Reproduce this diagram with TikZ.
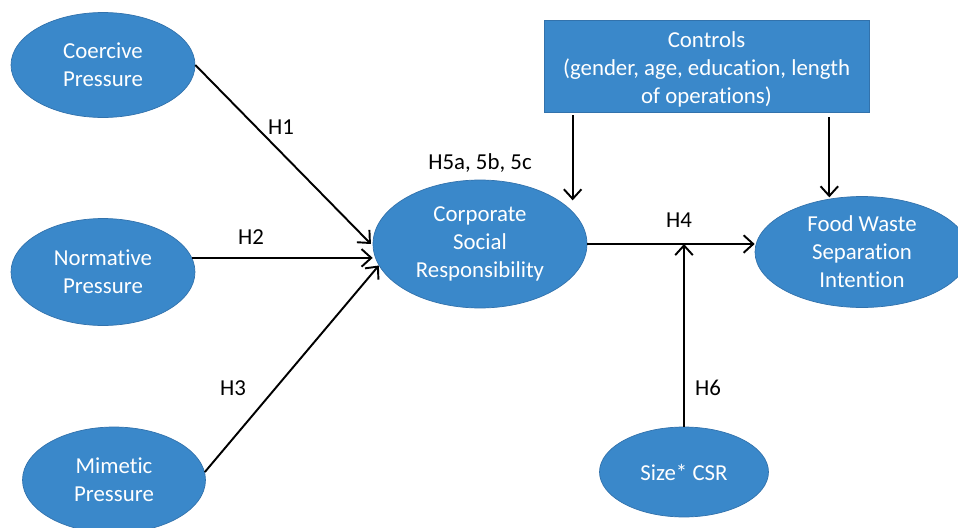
\documentclass[tikz,border=0pt]{standalone}
\usepackage{fontspec}
\setmainfont{Carlito}[Ligatures={NoCommon,NoDiscretionary,NoRare}]
\usetikzlibrary{shapes.geometric,arrows.meta}
\definecolor{nodeblue}{HTML}{3A88CA}
\definecolor{nodeedge}{HTML}{3272AC}
\begin{document}
\begin{tikzpicture}[x=0.02cm,y=-0.02cm,
  every node/.style={font=\fontsize{13}{16}\selectfont},
  oval/.style={ellipse,fill=nodeblue,draw=nodeedge,line width=0.4pt,text=white,align=center,inner sep=0pt},
  ctrlbox/.style={rectangle,fill=nodeblue,draw=nodeedge,line width=0.4pt,text=white,align=center,inner sep=0pt},
  arr/.style={line width=1.1pt,-{Straight Barb[length=5.5pt,width=10pt,line width=1.1pt]}},
  lbl/.style={text=black,inner sep=0pt}]
\useasboundingbox (0,0) rectangle (958,528);
\node[oval,minimum width=3.68cm,minimum height=2.1cm] (coer) at (103,65) {Coercive\\Pressure};
\node[oval,minimum width=3.68cm,minimum height=2.14cm] (norm) at (103,272) {Normative\\Pressure};
\node[oval,minimum width=3.66cm,minimum height=2.12cm] (mim) at (114,480) {Mimetic\\Pressure};
\node[oval,minimum width=4.28cm,minimum height=2.56cm] (csr) at (480,244) {Corporate\\Social\\Responsibility};
\node[oval,minimum width=4.28cm,minimum height=2.22cm] (food) at (862,252) {Food Waste\\Separation\\Intention};
\node[oval,minimum width=3.38cm,minimum height=1.8cm] (size) at (684,472) {Size* CSR};
\node[ctrlbox,minimum width=6.5cm,minimum height=1.84cm] (ctrl) at (706.5,66) {\rule{0pt}{12.5pt}Controls\\(gender, age, education, length\\of operations)};
% labels
\node[lbl] (h1) at (281,127) {H1};
\node[lbl] (h2) at (251,237) {H2};
\node[lbl] (h3) at (233,388) {H3};
\node[lbl] (h4) at (679,220) {H4};
\node[lbl] (h6) at (708,388) {H6};
\node[lbl] (h5) at (480,163) {H5a, 5b, 5c};
% connectors
\draw[arr] (coer.east) -- ([xshift=-1]csr.west);
\draw[arr] (norm.9) -- (norm.9 -| csr.west);
\draw[arr] (mim.5) -- (csr.192);
\draw[arr] (csr.east) -- (csr.east -| food.west);
\coordinate (mod) at (size.north |- csr.east);
\draw[arr] (size.north) -- (mod);
\draw[arr] ([shift={(29,3)}]ctrl.south west) -- ([shift={(29,88)}]ctrl.south west);
\draw[arr] ([shift={(-40,5)}]ctrl.south east) -- ([shift={(-40,85)}]ctrl.south east);
\end{tikzpicture}
\end{document}
